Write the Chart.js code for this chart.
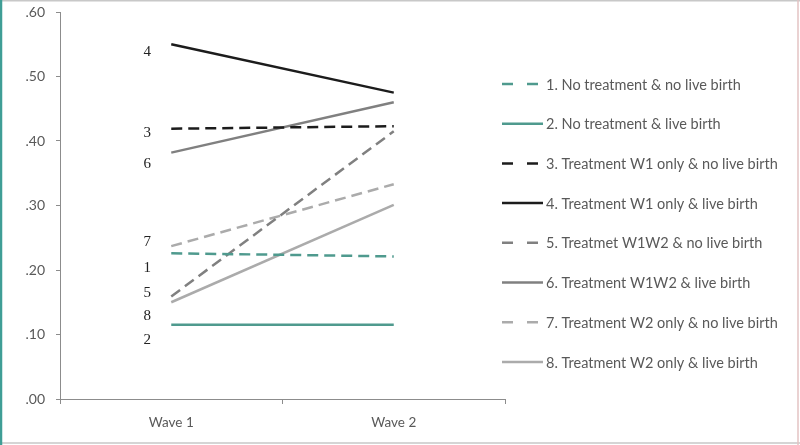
<!DOCTYPE html>
<html>
<head>
<meta charset="utf-8">
<script src="https://cdn.jsdelivr.net/npm/chart.js@4"></script>
<style>
  html, body { margin: 0; padding: 0; background: #fff; }
  #wrap { width: 800px; height: 445px; position: relative; }
</style>
</head>
<body>
<div id="wrap"><canvas id="myChart"></canvas></div>
<script>
// datos
const waves = ["Wave 1", "Wave 2"];
const seriesNames = [
  "1. No treatment & no live birth",
  "2. No treatment & live birth",
  "3. Treatment W1 only & no live birth",
  "4. Treatment W1 only & live birth",
  "5. Treatmet W1W2 & no live birth",
  "6. Treatment W1W2 & live birth",
  "7. Treatment W2 only & no live birth",
  "8. Treatment W2 only & live birth"
];
const s1 = [0.226, 0.221];
const s2 = [0.115, 0.115];
const s3 = [0.419, 0.423];
const s4 = [0.550, 0.475];
const s5 = [0.159, 0.415];
const s6 = [0.382, 0.460];
const s7 = [0.237, 0.333];
const s8 = [0.150, 0.301];
const yTicks = [0, 0.1, 0.2, 0.3, 0.4, 0.5, 0.6];
// numeros al lado de Wave 1 (valor donde va cada numero)
const markNames = ["4", "3", "6", "7", "1", "5", "8", "2"];
const markValues = [0.538, 0.412, 0.364, 0.243, 0.203, 0.164, 0.129, 0.091];

const teal = "#4f9a8e";
const black = "#1c1c1c";
const mid = "#808080";
const light = "#ababab";
const dash = [11, 6];

const allValues = [s1, s2, s3, s4, s5, s6, s7, s8];
const colors = [teal, teal, black, black, mid, mid, light, light];
const dashed = [true, false, true, false, true, false, true, false];

const datasets = allValues.map((vals, i) => ({
  label: seriesNames[i],
  data: vals,
  borderColor: colors[i],
  borderWidth: 2.5,
  borderDash: dashed[i] ? dash : [],
  pointRadius: 0,
  fill: false,
  tension: 0
}));

// plugin para bordes, leyenda y numeros
const extras = {
  id: "extras",
  beforeDraw(chart) {
    const ctx = chart.ctx;
    ctx.save();
    ctx.fillStyle = "#fff";
    ctx.fillRect(0, 0, chart.width, chart.height);
    ctx.lineWidth = 1.5;
    ctx.strokeStyle = "#c8c8c8";
    ctx.beginPath();
    ctx.moveTo(0, 0.75); ctx.lineTo(chart.width, 0.75);
    ctx.moveTo(0, chart.height - 2); ctx.lineTo(chart.width, chart.height - 2);
    ctx.stroke();
    ctx.strokeStyle = "#e3c3c3";
    ctx.beginPath();
    ctx.moveTo(chart.width - 2, 0); ctx.lineTo(chart.width - 2, chart.height);
    ctx.stroke();
    ctx.lineWidth = 2.5;
    ctx.strokeStyle = "#3f9e96";
    ctx.beginPath();
    ctx.moveTo(1, 0); ctx.lineTo(1, chart.height);
    ctx.stroke();
    ctx.restore();
  },
  afterDraw(chart) {
    const ctx = chart.ctx;
    const xs = chart.scales.x;
    const ys = chart.scales.y;
    ctx.save();
    // numeros
    ctx.font = "15px 'Liberation Serif'";
    ctx.fillStyle = "#222";
    ctx.textAlign = "center";
    ctx.textBaseline = "middle";
    const x0 = xs.getPixelForValue(0) - 24;
    markNames.forEach((m, i) => {
      ctx.fillText(m, x0, ys.getPixelForValue(markValues[i]));
    });
    // leyenda
    ctx.font = "14.5px Lato";
    ctx.textAlign = "left";
    const lx = 502, ly = 84, step = 39.7;
    chart.data.datasets.forEach((ds, i) => {
      const y = ly + i * step;
      ctx.strokeStyle = ds.borderColor;
      ctx.lineWidth = 2.5;
      ctx.beginPath();
      if (ds.borderDash.length) {
        ctx.moveTo(lx, y); ctx.lineTo(lx + 11, y);
        ctx.moveTo(lx + 25, y); ctx.lineTo(lx + 36, y);
      } else {
        ctx.moveTo(lx, y); ctx.lineTo(lx + 41, y);
      }
      ctx.stroke();
      ctx.fillStyle = "#595959";
      ctx.fillText(ds.label, lx + 44, y + 1);
    });
    ctx.restore();
  }
};

const config = {
  type: "line",
  data: { labels: waves, datasets },
  options: {
    responsive: true,
    maintainAspectRatio: false,
    animation: false,
    layout: { padding: { left: 0, top: 12, right: 295, bottom: 0 } },
    plugins: { legend: { display: false }, tooltip: { enabled: false } },
    scales: {
      x: {
        offset: true,
        grid: { drawOnChartArea: false, drawTicks: true, tickLength: 5, offset: true, color: "#8c8c8c" },
        border: { display: true, color: "#8c8c8c", width: 1 },
        ticks: { color: "#595959", font: { family: "Lato", size: 13.5 }, padding: 11 },
        afterFit: (s) => { s.height = 46; s.paddingLeft = 0; s.paddingRight = 0; }
      },
      y: {
        min: 0,
        max: 0.6,
        afterBuildTicks: (s) => { s.ticks = yTicks.map(v => ({ value: v })); },
        grid: { drawOnChartArea: false, drawTicks: true, tickLength: 4, color: "#8c8c8c" },
        border: { display: true, color: "#8c8c8c", width: 1 },
        ticks: {
          color: "#595959",
          font: { family: "Lato", size: 14 },
          padding: 11,
          callback: (v) => v.toFixed(2).replace(/^0/, "")
        },
        afterFit: (s) => { s.width = 60; s.paddingTop = 0; s.paddingBottom = 0; }
      }
    }
  },
  plugins: [extras]
};

const myChart = new Chart(document.getElementById("myChart"), config);
</script>
</body>
</html>
